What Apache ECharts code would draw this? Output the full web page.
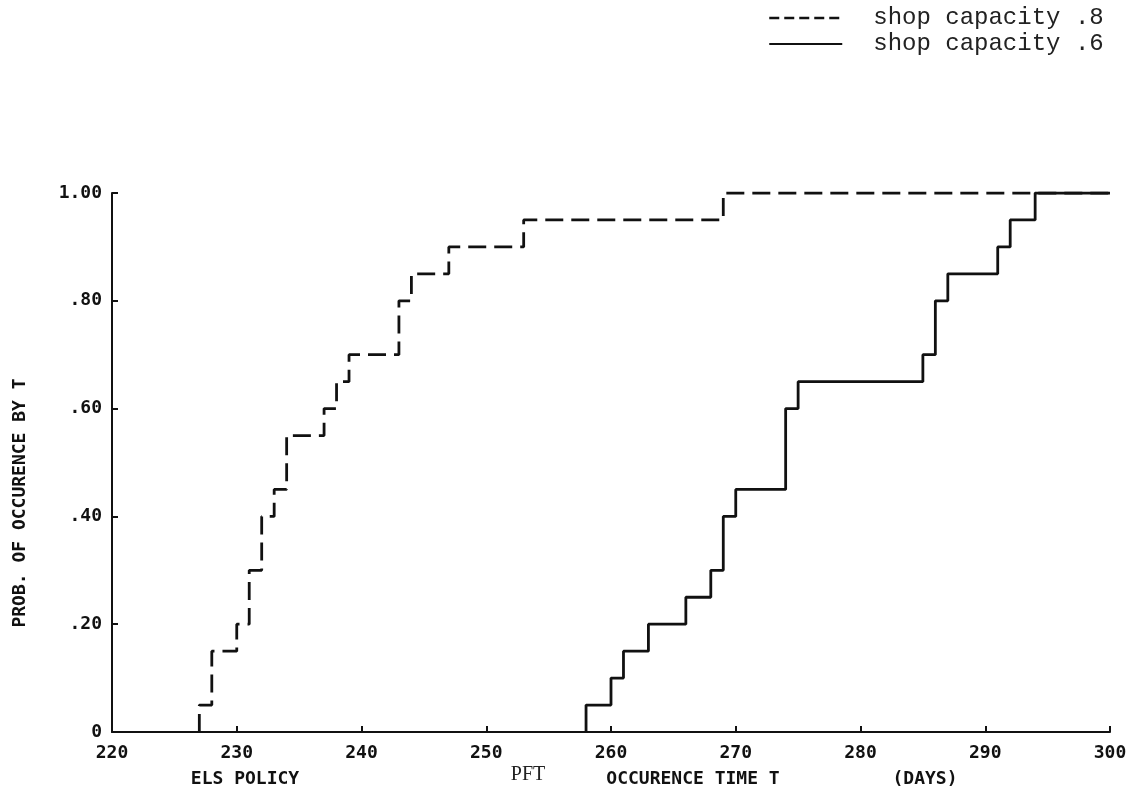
<!DOCTYPE html>
<html>
<head>
<meta charset="utf-8">
<script src="https://cdn.jsdelivr.net/npm/echarts@6/dist/echarts.min.js"></script>
<style>
html,body{margin:0;padding:0;background:#fff;}
#chart{width:1146px;height:796px;}
</style>
</head>
<body>
<div id="chart"></div>
<script>
// ---- data ----
var seriesNames = ['shop capacity .8', 'shop capacity .6'];
// day at which the cumulative probability steps up, and the new level
var cap8Days = [227, 228, 230, 231, 232, 233, 234, 237, 238, 239, 243, 244, 247, 253, 269];
var cap8Prob = [0.05, 0.15, 0.20, 0.30, 0.40, 0.45, 0.55, 0.60, 0.65, 0.70, 0.80, 0.85, 0.90, 0.95, 1.00];
var cap6Days = [258, 260, 261, 263, 266, 268, 269, 270, 274, 275, 285, 286, 287, 291, 292, 294];
var cap6Prob = [0.05, 0.10, 0.15, 0.20, 0.25, 0.30, 0.40, 0.45, 0.60, 0.65, 0.70, 0.80, 0.85, 0.90, 0.95, 1.00];
var xTickLabels = ['220', '230', '240', '250', '260', '270', '280', '290', '300'];
var yTickLabels = ['0', '.20', '.40', '.60', '.80', '1.00'];
var xMin = 220, xMax = 300;

function buildSteps(days, probs) {
  var pts = [[days[0], 0]];
  for (var i = 0; i < days.length; i++) pts.push([days[i], probs[i]]);
  pts.push([xMax, probs[probs.length - 1]]);
  return pts;
}

var chart = echarts.init(document.getElementById('chart'), null, {renderer: 'canvas'});
var plotFont = 'DejaVu Sans Mono';
var option = {
  animation: false,
  backgroundColor: '#ffffff',
  grid: {left: 112, right: 36, top: 193, bottom: 64, containLabel: false},
  legend: {
    show: true,
    orient: 'vertical',
    left: 763,
    top: 1,
    itemWidth: 73,
    itemHeight: 14,
    itemGap: 2,
    itemStyle: {opacity: 0},
    textStyle: {fontFamily: 'Liberation Mono', fontSize: 24, color: '#222', padding: [0, 0, 0, 26]},
    data: [
      {name: seriesNames[0], lineStyle: {type: [10, 5], width: 2.5, color: '#111'}},
      {name: seriesNames[1], lineStyle: {type: 'solid', width: 2, color: '#111'}}
    ]
  },
  xAxis: {
    type: 'value', min: xMin, max: xMax, interval: 10,
    axisLine: {show: true, onZero: false, lineStyle: {color: '#111', width: 2}},
    axisTick: {show: true, inside: true, length: 6, lineStyle: {color: '#111', width: 2}},
    splitLine: {show: false},
    axisLabel: {
      margin: 12, fontFamily: plotFont, fontWeight: 'bold', fontSize: 18, color: '#111',
      formatter: function (v) { return xTickLabels[Math.round((v - xMin) / 10)]; }
    }
  },
  yAxis: {
    type: 'value', min: 0, max: 1, interval: 0.2,
    axisLine: {show: true, lineStyle: {color: '#111', width: 2}},
    axisTick: {show: true, inside: true, length: 6, lineStyle: {color: '#111', width: 2}},
    splitLine: {show: false},
    axisLabel: {
      margin: 10, fontFamily: plotFont, fontWeight: 'bold', fontSize: 18, color: '#111',
      formatter: function (v) { return yTickLabels[Math.round(v / 0.2)]; }
    }
  },
  graphic: [
    {type: 'text', x: 20, y: 503, rotation: Math.PI / 2,
     style: {text: 'PROB. OF OCCURENCE BY T', font: 'bold 18px "DejaVu Sans Mono"', fill: '#111', textAlign: 'center', textVerticalAlign: 'middle'}},
    {type: 'text', x: 245, y: 779,
     style: {text: 'ELS POLICY', font: 'bold 18px "DejaVu Sans Mono"', fill: '#111', textAlign: 'center', textVerticalAlign: 'middle'}},
    {type: 'text', x: 528, y: 775,
     style: {text: 'PFT', font: '20px "Liberation Serif"', fill: '#222', textAlign: 'center', textVerticalAlign: 'middle'}},
    {type: 'text', x: 693, y: 779,
     style: {text: 'OCCURENCE TIME T', font: 'bold 18px "DejaVu Sans Mono"', fill: '#111', textAlign: 'center', textVerticalAlign: 'middle'}},
    {type: 'text', x: 925, y: 779,
     style: {text: '(DAYS)', font: 'bold 18px "DejaVu Sans Mono"', fill: '#111', textAlign: 'center', textVerticalAlign: 'middle'}}
  ],
  series: [
    {
      name: seriesNames[0], type: 'line', step: 'end', showSymbol: false, symbol: 'none',
      data: buildSteps(cap8Days, cap8Prob),
      lineStyle: {color: '#111', width: 2.8, type: [18, 8]},
      itemStyle: {color: '#111'}
    },
    {
      name: seriesNames[1], type: 'line', step: 'end', showSymbol: false, symbol: 'none',
      data: buildSteps(cap6Days, cap6Prob),
      lineStyle: {color: '#111', width: 2.8, type: 'solid'},
      itemStyle: {color: '#111'}
    }
  ]
};
chart.setOption(option);
</script>
</body>
</html>
